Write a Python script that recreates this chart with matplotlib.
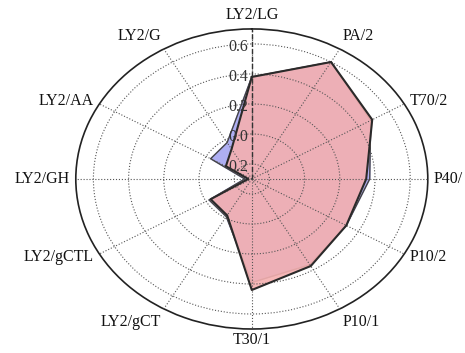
import numpy as np
import matplotlib
matplotlib.use('Agg')
import matplotlib.pyplot as plt

# categorias no sentido horario a partir do topo
categorias = ['LY2/LG', 'PA/2', 'T70/2', 'P40/', 'P10/2', 'P10/1', 'T30/1',
              'LY2/gCT', 'LY2/gCTL', 'LY2/GH', 'LY2/AA', 'LY2/G']
serie_vermelha = [0.38, 0.60, 0.49, 0.35, 0.32, 0.37, 0.44, -0.02, -0.03, -0.28, -0.13, -0.07]
serie_azul = [0.38, 0.60, 0.48, 0.37, 0.32, 0.36, 0.39, -0.01, -0.02, -0.26, -0.03, -0.02]
r_ticks = [-0.2, 0.0, 0.2, 0.4, 0.6]
r_labels = ['0.2', '0.0', '0.2', '0.4', '0.6']

rmin, rmax = -0.3, 0.7

plt.rcParams['font.family'] = ['Liberation Serif', 'DejaVu Serif']

fig = plt.figure(figsize=(4.65, 3.53), dpi=100)
ax = fig.add_axes([0.163, 0.068, 0.757, 0.85], projection='polar')
ax.set_theta_zero_location('N')
ax.set_theta_direction(-1)
ax.set_aspect('auto')  # deixa o grafico eliptico igual ao original

n = len(categorias)
theta = np.arange(n) * 2 * np.pi / n
tt = np.append(theta, theta[0])
vv = np.append(serie_vermelha, serie_vermelha[0])
aa = np.append(serie_azul, serie_azul[0])

ax.set_ylim(rmin, rmax)
ax.set_xticks(theta)
ax.set_xticklabels([])
ax.set_yticks(r_ticks)
ax.set_yticklabels([])
ax.set_axisbelow(False)
ax.grid(True, linestyle=':', color='#555555', linewidth=0.8)
ax.spines['polar'].set_linewidth(1.2)
ax.spines['polar'].set_color('#222222')

ax.fill(tt, aa, color='#aeaef2', zorder=1.2)
ax.plot(tt, aa, color='#444444', linewidth=1.0, zorder=1.3)
ax.fill(tt, vv, color='#f5b0b0', alpha=0.9, zorder=1.4)
ax.plot(tt, vv, color='#2a2a2a', linewidth=1.5, zorder=3)

# eixo vertical tracejado
ax.plot([0, 0], [rmin, rmax], '--', color='#333333', linewidth=1.0, zorder=3)

# rotulos radiais
for r, lab in zip(r_ticks, r_labels):
    ax.annotate(lab, xy=(0, r), xytext=(-4, -3), textcoords='offset pixels',
                ha='right', va='center', fontsize=11.5, color='#333333', zorder=4)

# rotulos das categorias fora da elipse
pad = 6
for t, lab in zip(theta, categorias):
    ang = np.pi / 2 - t
    c, s = np.cos(ang), np.sin(ang)
    ha = 'left' if c > 0.1 else ('right' if c < -0.1 else 'center')
    va = 'bottom' if s > 0.6 else ('top' if s < -0.6 else 'center')
    p = 3 if s < -0.9 else pad
    ax.annotate(lab, xy=(t, rmax), xytext=(p * c, p * s), textcoords='offset pixels',
                ha=ha, va=va, fontsize=11.5, color='#111111', annotation_clip=False)

fig.savefig('out.png', dpi=100)
